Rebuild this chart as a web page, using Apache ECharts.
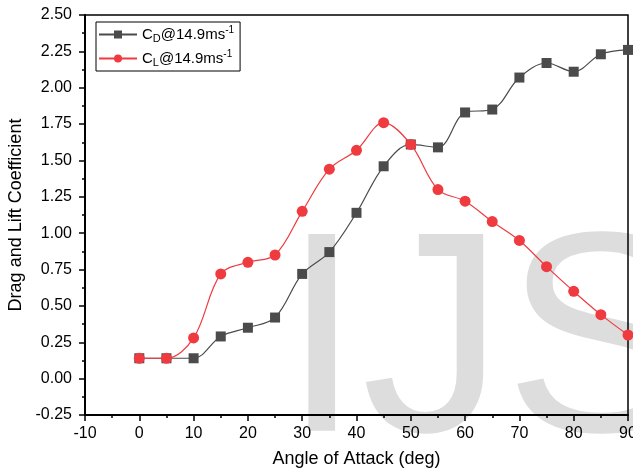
<!DOCTYPE html>
<html>
<head>
<meta charset="utf-8">
<script src="https://cdn.jsdelivr.net/npm/echarts@6/dist/echarts.min.js"></script>
<style>
  html, body { margin: 0; padding: 0; background: #fff; overflow: hidden; }
  #chart { width: 633px; height: 469px; }
</style>
</head>
<body>
<div id="chart"></div>
<script>
// Angle of attack (deg)
const angles = [0, 5, 10, 15, 20, 25, 30, 35, 40, 45, 50, 55, 60, 65, 70, 75, 80, 85, 90];
// Drag coefficient at 14.9 m/s
const dragCoeff = [0.14, 0.14, 0.14, 0.29, 0.35, 0.42, 0.72, 0.87, 1.14, 1.46, 1.61, 1.59, 1.83, 1.85, 2.07, 2.17, 2.11, 2.23, 2.26];
// Lift coefficient at 14.9 m/s
const liftCoeff = [0.14, 0.14, 0.28, 0.72, 0.80, 0.85, 1.15, 1.44, 1.57, 1.76, 1.61, 1.30, 1.22, 1.08, 0.95, 0.77, 0.60, 0.44, 0.30];

const seriesNames = ['CD', 'CL'];
const legendText = {
  CD: '{a|C}{sub|D}{a|@14.9ms}{sup|-1}',
  CL: '{a|C}{sub|L}{a|@14.9ms}{sup|-1}'
};

const font = 'Liberation Sans, Arial, Helvetica, sans-serif';
const chart = echarts.init(document.getElementById('chart'));

const pairs = (ys) => angles.map((x, i) => [x, ys[i]]);

chart.setOption({
  backgroundColor: '#ffffff',
  animation: false,
  textStyle: { fontFamily: font },
  graphic: [{
    type: 'text',
    z: -10,
    silent: true,
    x: 282,
    y: 352,
    style: {
      text: 'IJS',
      font: '286px ' + font,
      fill: '#dddddd',
      align: 'left',
      verticalAlign: 'middle'
    }
  }],
  grid: {
    left: 85, top: 15, right: 5, bottom: 54,
    outerBoundsMode: 'none',
    containLabel: false,
    show: true, borderColor: '#000', borderWidth: 1.5, backgroundColor: 'transparent'
  },
  legend: {
    orient: 'vertical',
    left: 96, top: 22,
    data: seriesNames,
    borderColor: '#000', borderWidth: 1,
    padding: [3, 6, 3, 2],
    itemGap: 5,
    itemWidth: 38, itemHeight: 10,
    formatter: (name) => legendText[name],
    textStyle: {
      color: '#000',
      rich: {
        a: { fontSize: 15, fontFamily: font, color: '#000', lineHeight: 19 },
        sub: { fontSize: 11, fontFamily: font, color: '#000', lineHeight: 12, verticalAlign: 'bottom' },
        sup: { fontSize: 10, fontFamily: font, color: '#000', lineHeight: 12, verticalAlign: 'top' }
      }
    }
  },
  xAxis: {
    type: 'value',
    min: -10, max: 90, interval: 10,
    name: 'Angle of Attack (deg)',
    nameLocation: 'middle',
    nameGap: 35,
    nameTextStyle: { fontSize: 18, color: '#000', fontFamily: font },
    axisLine: { show: true, onZero: false, lineStyle: { color: '#000', width: 2 } },
    axisTick: { show: true, inside: false, length: 6, lineStyle: { color: '#000', width: 1.5 } },
    minorTick: { show: true, splitNumber: 2, length: 3, lineStyle: { color: '#000', width: 1.5 } },
    axisLabel: { fontSize: 16, color: '#000', margin: 11, fontFamily: font },
    splitLine: { show: false }
  },
  yAxis: {
    type: 'value',
    min: -0.25, max: 2.5, interval: 0.25,
    name: 'Drag and Lift Coefficient',
    nameLocation: 'middle',
    nameGap: 59,
    nameTextStyle: { fontSize: 18, color: '#000', fontFamily: font },
    axisLine: { show: true, onZero: false, lineStyle: { color: '#000', width: 2 } },
    axisTick: { show: true, inside: false, length: 6, lineStyle: { color: '#000', width: 1.5 } },
    minorTick: { show: true, splitNumber: 2, length: 3, lineStyle: { color: '#000', width: 1.5 } },
    axisLabel: { fontSize: 16, color: '#000', margin: 13, fontFamily: font, formatter: (v) => v.toFixed(2) },
    splitLine: { show: false }
  },
  series: [
    {
      name: 'CD',
      type: 'line',
      data: pairs(dragCoeff),
      smooth: 0.35,
      symbol: 'rect',
      symbolSize: 10,
      itemStyle: { color: '#4b4b4b' },
      lineStyle: { color: '#4b4b4b', width: 1.2 },
      z: 3
    },
    {
      name: 'CL',
      type: 'line',
      data: pairs(liftCoeff),
      smooth: 0.35,
      symbol: 'circle',
      symbolSize: 11,
      itemStyle: { color: '#ef3b3f' },
      lineStyle: { color: '#ef3b3f', width: 1.2 },
      z: 4
    }
  ]
});
</script>
</body>
</html>
